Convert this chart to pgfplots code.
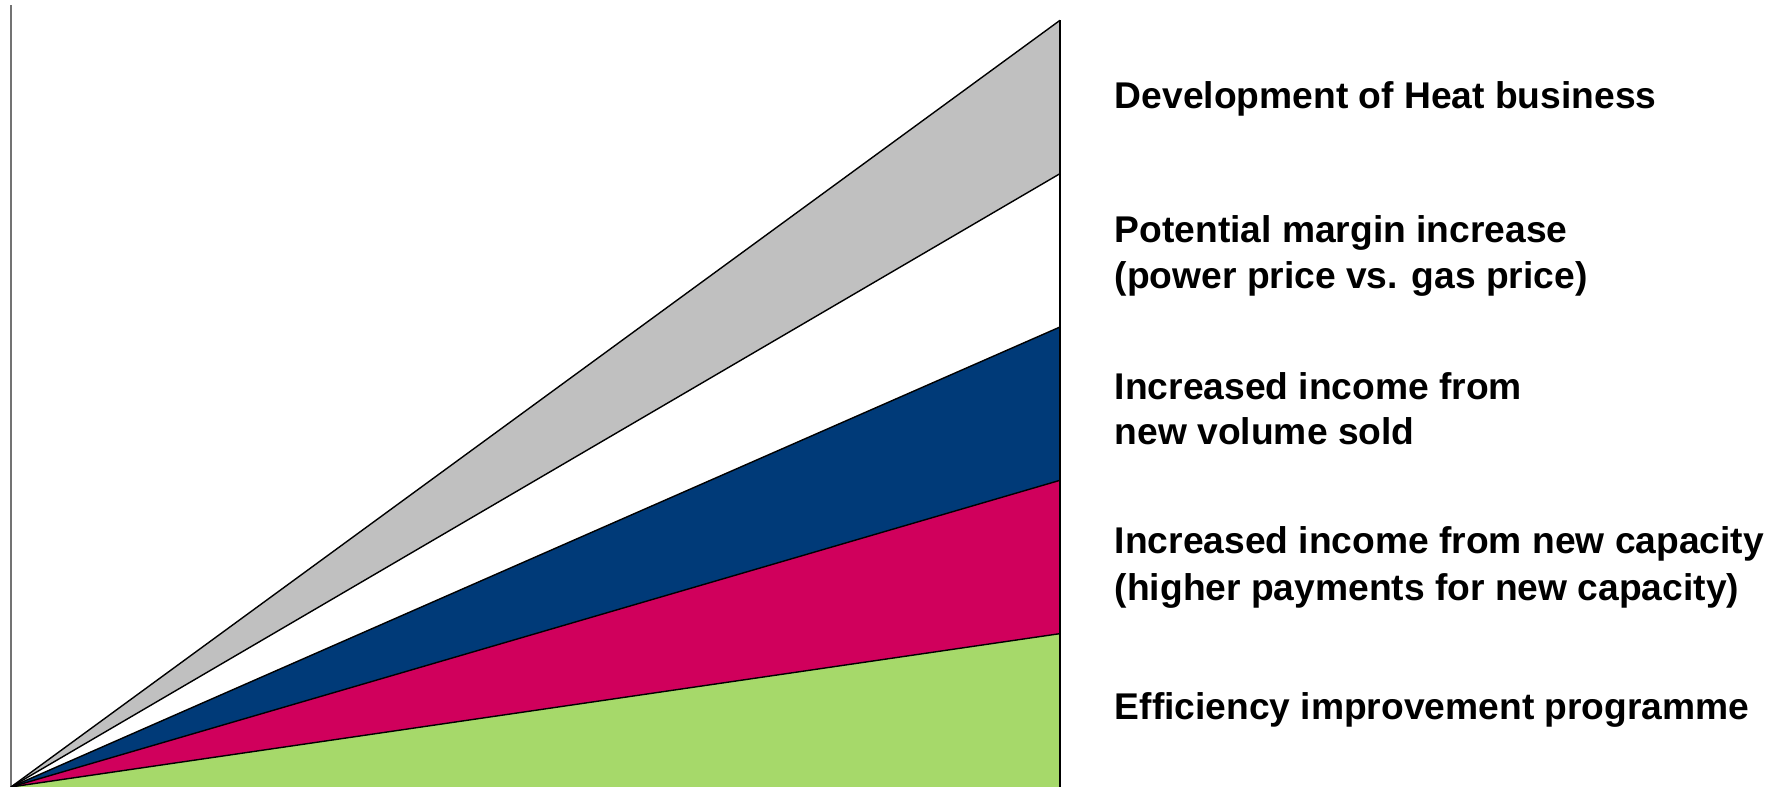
\documentclass[border=0pt]{standalone}
\usepackage{pgfplots}
\pgfplotsset{compat=1.18}
\usepackage{fontspec}
\setmainfont{Liberation Sans}

\definecolor{heatgray}{HTML}{C0C0C0}
\definecolor{volblue}{HTML}{003A78}
\definecolor{capmag}{HTML}{D0005C}
\definecolor{effgreen}{HTML}{A6D96A}

\tikzset{lbl/.style={font=\fontsize{9.3}{12}\selectfont\bfseries, inner sep=0pt, anchor=base west, xshift=13.5pt}}

\begin{document}
\begin{tikzpicture}
\begin{axis}[
    scale only axis,
    width=262.25pt,
    height=195.5pt,
    xmin=0, xmax=1,
    ymin=0, ymax=5.1,
    axis x line=none,
    axis y line=left,
    y axis line style={-, draw=gray!90!black, line width=0.45pt},
    xtick=\empty, ytick=\empty,
    clip=false,
]
% bands (cumulative contributions)
\addplot[fill=effgreen, draw=none] coordinates {(0,0) (1,0) (1,1)} -- cycle;
\addplot[fill=capmag, draw=none] coordinates {(0,0) (1,1) (1,2)} -- cycle;
\addplot[fill=volblue, draw=none] coordinates {(0,0) (1,2) (1,3)} -- cycle;
\addplot[fill=white, draw=none] coordinates {(0,0) (1,3) (1,4)} -- cycle;
\addplot[fill=heatgray, draw=none] coordinates {(0,0) (1,4) (1,5)} -- cycle;
% outlines
\addplot[black, line width=0.35pt] coordinates {(0,0) (1,1)};
\addplot[black, line width=0.35pt] coordinates {(0,0) (1,2)};
\addplot[black, line width=0.35pt] coordinates {(0,0) (1,3)};
\addplot[black, line width=0.35pt] coordinates {(0,0) (1,4)};
\addplot[black, line width=0.35pt] coordinates {(0,0) (1,5)};
\addplot[black, line width=0.45pt] coordinates {(1,0) (1,5)};
% labels
\node[lbl] at (axis cs:1,4.426) {Development of Heat business};
\node[lbl] at (axis cs:1,3.553) {Potential margin increase};
\node[lbl] at (axis cs:1,3.253) {(power price vs. gas price)};
\node[lbl] at (axis cs:1,2.529) {Increased income from};
\node[lbl] at (axis cs:1,2.233) {new volume sold};
\node[lbl] at (axis cs:1,1.522) {Increased income from new capacity};
\node[lbl] at (axis cs:1,1.219) {(higher payments for new capacity)};
\node[lbl] at (axis cs:1,0.437) {Efficiency improvement programme};
\end{axis}
\pgfresetboundingbox
\path (current axis.south west) ++(-2.75pt,0) rectangle ++(446.5pt,196.75pt);
\end{tikzpicture}
\end{document}
